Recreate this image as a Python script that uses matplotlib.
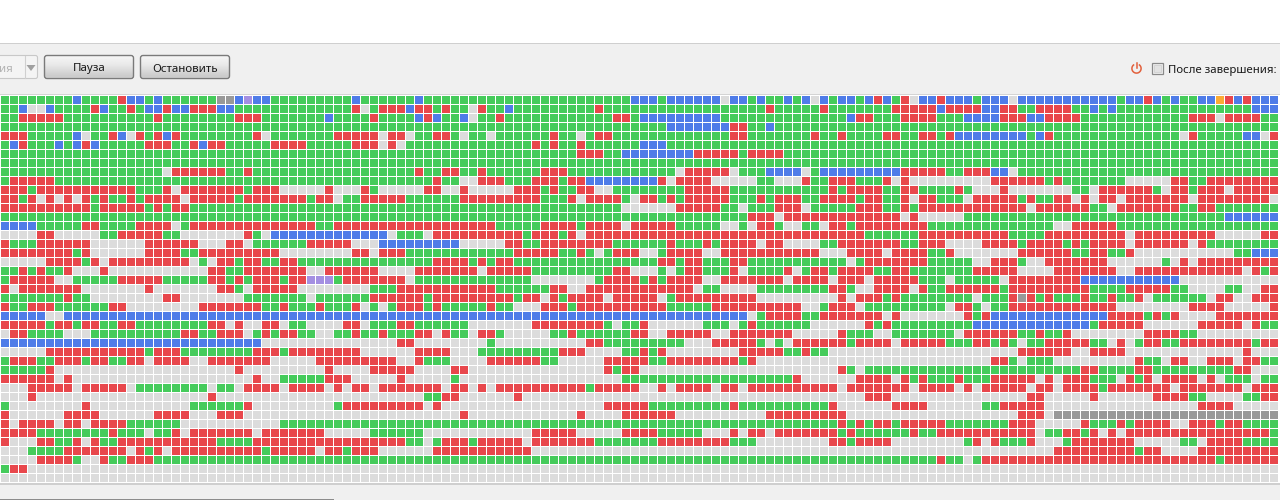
import numpy as np
import matplotlib
matplotlib.use('Agg')
import matplotlib.pyplot as plt
from matplotlib.colors import ListedColormap
from matplotlib.patches import FancyBboxPatch, Rectangle, Polygon

plt.rcParams['font.family'] = ['Noto Sans', 'DejaVu Sans']

# piece states, run lengths per row: g done, r active, b requested, w empty, d stalled, p/o other
codes = ['w', 'g', 'r', 'b', 'd', 'p', 'o']
colors = ['#dcdcdc', '#45cb5b', '#e8474c', '#4f7ce8', '#999999', '#a48fe2', '#fbab34']

# columns 0-47
left = [
    'g8 b1 g4 r1 b2 g1 b1 g6 d2 b1 p1 b2 g9 b1 g6 b1 g1',
    'g2 b1 w2 b1 g4 r1 b1 g2 r1 g1 b2 r1 b2 r3 b2 g13 r1 w1 g1 r3 b1 r2',
    'g2 r5 g10 r1 g8 r3 g7 b1 g4 r1 g4 b1 r1',
    'g48',
    'r3 g5 b1 w1 g2 r1 b1 w1 r1 g1 r1 b1 r1 g8 r1 w1 g7 r5 w1 r2 w1 g2',
    'g1 b1 r1 g3 b1 g1 b1 r1 b1 g5 r3 g2 r1 b1 r2 g5 r4 g5 r3 w1 r1 w1 g3',
    'g48',
    'g48',
    'g18 w1 r6 g2 r1 g18 r1 g1',
    'g1 r5 g42',
    'r3 g1 r11 g3 r1 w1 r7 g1 r3 w5 r1 w3 r1 g1 w5 r1',
    'r2 g1 r1 w1 r1 w1 r1 w1 r1 g1 r1 g2 r1 g1 r4 w1 r5 g1 r7 g1 r2 w1 g2 r5 g3',
    'r10 g1 r5 g1 r1 g1 r2 g27',
    'g48',
    'b4 g5 r2 g4 r4 w1 g1 r14 g2 r11',
    'w4 r2 w5 g2 r5 g2 w7 r1 g1 w1 b13 w1 g3 w1',
    'r1 g3 r6 w6 r6 w3 r2 w1 g6 r5 w3 b6',
    'r8 g1 r1 w6 r4 g2 r9 w8 r2 w1 r3 g3',
    'w5 r4 g1 r1 w1 r9 w1 g1 w1 r2 g1 r2 g2 r2 g15',
    'g2 r1 g1 r1 g2 r1 w3 r1 w11 r2 g2 r7 w2 r6 w4 r2',
    'g1 r5 w2 g5 r5 g5 r2 g1 r1 g1 r3 g1 r2 p3 g1 r7 w1 g2',
    'r1 w1 r7 w7 r1 w7 r2 g1 w1 r5 w8 g3 r4',
    'g7 r1 g2 w8 r2 w7 g7 w1 g6 r6 g1',
    'r1 g2 r3 g6 r2 w8 r7 g2 r1 g3 r1 g3 r1 w1 g1 w1 g1 r3 g1',
    'b5 w2 b41',
    'r5 g1 r2 g1 r2 g2 r2 g8 r2 w1 r1 w2 r2 w1 g2 w4 r2 w1 g3 r2 g2',
    'w1 r2 g4 w3 g10 r2 g2 r3 w1 g1 r1 g1 r2 g2 w2 g2 r1 g2 r1 g3 r2',
    'b29 w15 r2 w2',
    'w5 r11 g1 r3 g8 r3 g1 r8 w6 r2',
    'g1 r3 g2 r3 g1 r2 g2 r2 w1 r4 w2 r7 w5 r9 w2 r1 g1',
    'g5 r1 w20 r1 w9 r1 w4 r5 w2',
    'r6 w1 r1 w20 r1 w2 g5 r3 w5 r1 w3',
    'w3 r5 w1 r5 w1 g8 w1 g2 w1 r4 w1 r4 w1 r1 w1 r2 w1 r6',
    'w3 r1 w19 r1 w23 g1',
    'g1 w8 r1 w11 g6 r1 w9 g1 r9 w1',
    'r1 w6 r4 w6 r4 w3 r3 w21',
    'r1 w1 r4 w1 r2 w1 r4 g6 w11 g17',
    'r4 g8 r1 g3 w1 g2 r1 w1 r7 w1 r7 w5 g6 w1',
    'r1 w3 r2 g2 r1 w1 r1 g2 r11 g4 r17 g2 w1',
    'w3 g4 r7 w1 r1 g1 r1 w1 r10 g1 r5 w1 r2 g1 r3 w6',
    'w4 r4 g1 w2 r1 g2 r3 g31',
    'g1 r2 w45',
    'w48',
]

# columns 48-94
middle = [
    'g22 b3 g1 b6 w1 b2 g1 b1 g2 b1 g1 b1 w1 b1 g1 b2',
    'g1 r1 g2 w1 r1 g2 b1 g9 r1 g18 r1 g5 r1 g3',
    'b1 g2 b1 w1 g2 r1 g12 r2 g1 b9 g14 b1',
    'g26 b7 r2 g2 b1 g9',
    'r2 g1 w1 g2 w1 g6 r1 g2 w1 g1 r2 g13 r2 g7 r1 g2 r1 g1',
    'g11 r1 g1 r1 g2 r1 g6 b3 g21',
    'g16 r3 g2 b8 r5 g1 r4 g8',
    'g47',
    'g1 r2 g2 r1 g6 r3 g12 w1 r5 w1 g3 b4 w1 g1 b4',
    'r1 g2 w2 r3 g3 r3 g1 r2 b8 r1 w1 r4 w5 g2 w3 r1 g2 r3',
    'r1 w2 r1 w5 r3 g1 r1 g2 r2 w2 g8 r5 g11 r1 g1 r1',
    'g3 r9 g3 r1 w1 r4 g1 w1 r2 g1 r1 g1 r5 g3 r1 g1 r3 g2 r4',
    'g21 w6 r5 g2 w1 g3 r3 w1 g5',
    'g35 r3 w1 r8',
    'r7 g5 r4 g1 r4 w1 r5 g5 w2 g1 w1 r2 g1 w2 g2 w1 r2 g1',
    'r10 g1 r3 g1 r1 w1 r30',
    'b3 w5 r2 g2 r8 g6 r1 g3 r1 g1 r4 w1 r2 w4 g2 r2',
    'g9 r5 g2 r1 g1 w1 g1 r3 w2 g1 r4 w2 r11 w3 r1',
    'r4 g1 r1 g1 r2 g16 r2 g1 r2 g3 r2 g11 w1',
    'r5 w1 r5 g9 r2 w3 g1 w1 g1 r2 g3 r1 w1 g4 r1 w1 g1 r2 g1 r2',
    'g11 w7 g1 r4 g1 r1 g1 r4 w2 r7 w1 r4 w1 r2',
    'r7 g6 r2 w2 r12 w1 g2 w4 g8 r2 g1',
    'r9 g1 r2 w1 r1 g1 r4 w1 r5 w1 g1 r9 w9 r1 w1',
    'r1 g5 r1 g2 w3 r3 g1 r10 g5 r10 w2 g1 r3',
    'b35 w1 g1 r4 g2 r4',
    'g4 w7 r8 g1 w1 g2 r1 w6 g3 w1 g1 r1 g6 w5',
    'w1 r1 g2 w1 r2 g1 w5 g2 r1 g6 r2 w2 r5 w2 r7 w5 r1 g1',
    'w6 g1 w10 r2 g9 w3 r5 g1 w1 g1 w1 r6 g1',
    'r2 w3 g9 r3 w4 g2 r1 g1 r1 w8 r5 g2 r1 g2 w3',
    'g2 w4 r6 g2 w5 r5 g2 r8 g1 r1 w11',
    'w2 r2 w15 r1 g1 r2 w22 r1 g1',
    'w2 g1 w18 g19 r1 w6',
    'r1 w1 r2 w1 r1 w1 r10 g1 r5 w2 r1 w1 r4 w1 r2 w1 r10 w1 r1',
    'g1 r2 w6 r1 w37',
    'r1 w18 r5 g9 r1 g10 r1 w2',
    'w3 r1 w12 r1 w4 r6 w10 r9 w1',
    'g45 r1 g1',
    'w11 r5 w5 r4 g5 w3 r1 w1 r2 w1 r7 g1 r1',
    'g1 r3 g1 r5 w1 r7 g7 r8 g3 w8 r2 g1',
    'r11 w36',
    'g47',
    'w47',
    'w47',
]

# columns 95-141
right = [
    'g1 b1 r1 b1 g1 r1 w1 b2 r1 b3 g1 b3 w1 b11 g1 b2 r1 b1 g1 b1 g2 b2 o1 r1 b1 r1 b3',
    'g4 r5 b1 r4 b2 r2 g2 r4 g2 b1 g1 b1 g15 b3',
    'r2 g3 r4 g3 b4 r3 b2 r4 g12 r3 w1 r4 g2',
    'g47',
    'g3 r2 g2 r2 g1 r1 b8 g1 b1 r1 g14 w1 r1 g5 b2 w1 r1',
    'g47',
    'g47',
    'g47',
    'b5 r5 g2 r3 b2 w1 g29',
    'g3 r1 w1 r1 w9 r6 g1 r1 g7 w5 r2 g2 r8',
    'r3 g2 r2 g4 r1 g1 w3 r1 w7 g2 w1 r6 g1 w1 r2 g1 r3 w1 r5',
    'g1 r2 g2 r1 w1 r2 g3 w1 r5 g1 r1 g2 r2 w1 r1 w1 r2 w1 r7 w1 r8 w1',
    'r3 g2 r1 g1 r12 w1 r6 g2 w1 r7 g2 r2 g7',
    'r5 w1 r1 w5 g29 b6',
    'r8 g14 w2 r5 g18',
    'r1 g6 r10 g4 r9 w1 r9 w5 r2',
    'r5 g2 r3 w4 r4 g1 r4 g1 r1 g1 r4 w1 r6 w1 r1 g8',
    'r3 w1 r4 g2 r1 w7 r6 g2 r2 g2 r1 w11 g2 b3',
    'g1 r7 g5 w2 r3 g1 w2 r7 w6 g1 w1 r1 w1 r9',
    'r2 g2 r2 g7 r5 w4 r7 w2 r12 w1 r1 g1 r1',
    'r1 w1 r5 g3 w1 g5 w1 r8 b11 w11',
    'w2 r4 w1 r1 g2 r6 g1 r9 g4 r5 g2 w4 g2 w2 r2',
    'r3 g1 r1 g8 w1 g3 r1 d1 r1 g1 r1 g3 r1 g2 r1 g2 r1 w1 g6 w1 r2 w2 r3',
    'w1 g9 w1 r2 g1 w1 g2 r12 w8 r4 w5 r1',
    'r3 w1 r1 w7 r1 g1 r1 b13 r4 g1 r1 g1 r1 w4 r7',
    'w1 r1 g1 r1 g9 b13 g1 r5 w6 r5 w1 r1 g2',
    'g2 w2 g7 w1 r6 g2 r1 g2 r1 w8 r4 g2 w9',
    'r4 w1 r5 g3 r2 g1 r1 g1 w1 g2 r5 g2 w1 r1 w1 g1 r2 g2 r8 g1 r2',
    'w18 r6 w2 r4 w13 r1 w3',
    'w15 r2 g1 w1 g3 w9 r1 g2 w1 r2 w2 r3 w1 r2 g2',
    'w1 g24 r2 g4 r2 g9 r2 w3',
    'r4 w1 r1 g1 r1 g3 r1 g3 r5 w1 r1 w1 r3 g3 w1 r1 g1 r1 w1 r4 w1 r1 w1 g3 w1 g2',
    'r6 w1 r4 w1 r1 w1 r5 w1 r2 w1 r4 g1 r7 w1 r7 w1 r3',
    'w1 r3 w15 r2 w5 r1 w6 r4 g2 w4 g2 r2',
    'w4 r4 w6 g2 r5 w17 r4 w5',
    'w18 r3 w1 d25',
    'r1 g1 r2 g1 r5 g7 r3 w5 r1 g3 r1 g1 r4 w2 r3 g1 r2 g4',
    'g6 r1 g2 r11 w1 g2 r2 g1 r1 w1 r1 w1 r16 g1',
    'r4 w8 g1 r1 w1 r1 g3 r1 w3 g1 r7 w5 g2 w1 r4 g4',
    'w22 r9 g1 r2 w4 r9',
    'g9 r1 g2 w1 g1 r26 g1 r6',
    'w47',
    'w47',
]

button_labels = ['Пауза', 'Остановить']
after_label = 'После завершения:'
combo_label = 'ия'


def expand(runs):
    out = []
    for tok in runs.split():
        out += [codes.index(tok[0])] * int(tok[1:])
    return out


pieces = np.array([expand(' '.join(parts)) for parts in zip(left, middle, right)])
n_rows, n_cols = pieces.shape

fig = plt.figure(figsize=(12.8, 5), dpi=100, facecolor='white')

# window chrome, one axes in pixel coordinates
ax = fig.add_axes([0, 0, 1, 1])
ax.axis('off')
ax.add_patch(Rectangle((0, 44), 1280, 51, fc='#f0f0f0', ec='none'))
ax.add_patch(Rectangle((0, 484), 1280, 16, fc='#f0f0f0', ec='none'))
ax.add_patch(Rectangle((0, 43), 1280, 1, fc='#cfcfcf', ec='none'))
ax.add_patch(Rectangle((0, 94), 1280, 1, fc='#d4d4d4', ec='none'))
ax.add_patch(Rectangle((0, 483), 1280, 1.5, fc='#cfcfcf', ec='none'))
ax.add_patch(Rectangle((0, 499), 334, 1, fc='#8c8c8c', ec='none'))

# greyed out combo box
ax.add_patch(FancyBboxPatch((-6, 55.5), 43.5, 23, boxstyle='round,pad=0,rounding_size=2',
                            fc='#f4f4f4', ec='#c8c8c8', lw=0.8))
ax.plot([24.5, 24.5], [56, 78], color='#d0d0d0', lw=0.8)
ax.add_patch(Polygon([[26.5, 65], [35.5, 65], [31, 71]], fc='#a0a0a0', ec='none'))
ax.text(6, 69, combo_label, color='#b4b4b4', fontsize=8.2, ha='center', va='center')

# buttons with the vertical gradient
shade = np.array([[0.97], [0.96], [0.95], [0.95], [0.94], [0.94], [0.93], [0.93], [0.92], [0.92],
                  [0.91], [0.90], [0.89], [0.88], [0.87], [0.86], [0.85], [0.84], [0.83], [0.82],
                  [0.81], [0.80], [0.80], [0.84]])
for (x0, x1), label in zip([(44.5, 133.5), (140.5, 229.5)], button_labels):
    box = FancyBboxPatch((x0, 55.5), x1 - x0, 23, boxstyle='round,pad=0,rounding_size=2.5',
                         fc='none', ec='#7a7a7a', lw=1.0, zorder=3)
    ax.add_patch(box)
    im = ax.imshow(shade, cmap='gray', vmin=0, vmax=1, extent=(x0, x1, 78.5, 55.5),
                   aspect='auto', zorder=2, interpolation='bilinear')
    im.set_clip_path(box)
    ax.text((x0 + x1) / 2, 69, label, color='#1a1a1a', fontsize=8.3, ha='center', va='center', zorder=4)
ax.set_xlim(0, 1280)
ax.set_ylim(500, 0)

# shutdown icon and checkbox
t = np.linspace(np.radians(-50), np.radians(230), 40)
ax.plot(1136.5 + 4.6 * np.cos(t), 68.5 + 4.6 * np.sin(t), color='#e2603c', lw=1.1)
ax.plot([1136.5, 1136.5], [62.5, 67.5], color='#e2603c', lw=1.1)
ax.add_patch(Rectangle((1151.5, 62.5), 11.5, 11.5, fc='#f2f2f2', ec='#8a8a8a', lw=0.9))
ax.add_patch(Rectangle((1153.5, 64.5), 7.5, 7.5, fc='#e2e2e2', ec='#cccccc', lw=0.5))
ax.text(1168, 70, after_label, color='#1a1a1a', fontsize=8.2, ha='left', va='center')

# the piece map, 9 px per cell with a 1 px white gap
grid = fig.add_axes([0, (500 - 95 - 387) / 500, 1278 / 1280, 387 / 500])
grid.imshow(pieces, cmap=ListedColormap(colors), vmin=-0.5, vmax=len(colors) - 0.5,
            extent=(0, n_cols, n_rows, 0), aspect='auto', interpolation='nearest')
grid.set_xlim(0, n_cols)
grid.set_ylim(n_rows, 0)
grid.axis('off')

# gaps between the cells, in pixel coordinates so they land on whole pixels
for i in range(n_cols + 1):
    ax.add_patch(Rectangle((9 * i, 95), 1, 388, fc='white', ec='none', zorder=6,
                           snap=True, antialiased=False))
for j in range(n_rows + 1):
    ax.add_patch(Rectangle((0, 95 + 9 * j), 1280, 1, fc='white', ec='none', zorder=6,
                           snap=True, antialiased=False))
ax.set_zorder(grid.get_zorder() + 1)
ax.patch.set_visible(False)

fig.savefig('out.png', dpi=100, facecolor='white')
